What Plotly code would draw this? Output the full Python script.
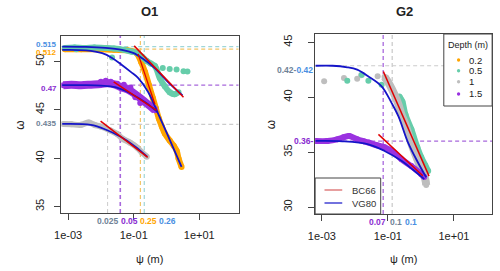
import numpy as np
import plotly.graph_objects as go

# ---------------- data (log10 psi, omega) ----------------
# O1 panel
o1_orange_lp = [-3.1, -2.6, -2.1, -1.6, -1.2, -0.925, -0.774, -0.654, -0.534, -0.414, -0.323, -0.233, -0.143, -0.05, 0.10, 0.22, 0.31, 0.37, 0.46]
o1_orange_w = [51.25, 51.25, 51.25, 51.2, 51.15, 50.89, 49.95, 48.91, 47.55, 46.2, 45.16, 44.11, 43.28, 42.55, 41.82, 41.3, 40.78, 39.95, 39.1]
o1_teal_lp = [-3.1, -2.8, -2.5, -2.2, -1.9, -1.6, -1.3, -1.05, -0.9, -0.75, -0.6, -0.48, -0.353, -0.203, -0.053, 0.098, 0.248, 0.368]
o1_teal_w = [51.4, 51.45, 51.4, 51.45, 51.4, 51.35, 51.2, 51.0, 50.9, 50.5, 50.05, 49.8, 49.53, 48.28, 47.45, 46.82, 46.61, 46.82]
o1_teal_extra_lp = [-1.66, -0.113, 0.098, 0.308, 0.519, 0.64, -2.75]
o1_teal_extra_w = [50.4, 49.32, 49.22, 49.17, 49.0, 48.96, 51.25]
o1_grey_lp = [-3.15, -2.9, -2.6, -2.37, -2.2, -2.01, -1.71, -1.5, -1.35, -1.11, -0.89, -0.75, -0.60]
o1_grey_w = [43.54, 43.5, 43.45, 43.7, 43.45, 43.28, 42.86, 42.5, 42.03, 41.61, 41.09, 40.6, 40.16]
o1_purple_lp = [-3.15, -2.9, -2.61, -2.3, -2.0, -1.8, -1.56, -1.4, -1.26, -1.1, -0.95, -0.8, -0.65, -0.5, -0.35]
o1_purple_w = [47.55, 47.6, 47.55, 47.6, 47.66, 47.75, 47.6, 47.35, 47.2, 46.95, 46.6, 46.2, 45.8, 45.4, 44.95]
o1_purple_extra_lp = [-2.0, -1.85, -1.7, -1.5, -1.3, -1.1, -0.95, -0.8]
o1_purple_extra_w = [47.9, 48.0, 47.9, 47.7, 47.6, 47.3, 46.3, 45.7]

# fitted curves O1 (VG80 = blue, BC66 = red)
o1_vg_teal_lp = [-3.18, -2.46, -1.86, -1.36, -1.02, -0.74, -0.35, 0.04, 0.49]
o1_vg_teal_w = [51.54, 51.51, 51.4, 51.2, 50.89, 50.33, 49.29, 47.9, 46.5]
o1_vg_orange_lp = [-3.18, -2.46, -1.96, -1.66, -1.36, -1.08, -0.86, -0.56, -0.30, -0.05, 0.19, 0.46]
o1_vg_orange_w = [51.2, 51.15, 50.85, 50.36, 49.64, 48.9, 48.28, 46.85, 44.95, 43.07, 41.2, 39.11]
o1_vg_purple_lp = [-3.18, -2.5, -2.0, -1.56, -1.11, -0.65, -0.26]
o1_vg_purple_w = [47.55, 47.55, 47.5, 47.34, 46.72, 45.78, 44.74]
o1_vg_grey_lp = [-3.18, -2.31, -1.86, -1.41, -0.95, -0.59]
o1_vg_grey_w = [43.54, 43.44, 42.97, 42.24, 41.2, 40.16]
o1_bc_teal_lp = [-0.985, 0.519]
o1_bc_teal_w = [51.61, 46.30]
o1_bc_orange_lp = [-0.865, -0.353]
o1_bc_orange_w = [50.78, 45.57]
o1_bc_purple_lp = [-1.61, -0.30]
o1_bc_purple_w = [47.9, 44.95]
o1_bc_grey_lp = [-2.01, -0.573]
o1_bc_grey_w = [43.83, 40.08]

# reference lines O1
o1_hlines = [51.53, 51.27, 47.55, 43.5]
o1_hline_labels = ["0.515", "0.512", "0.47", "0.435"]
o1_vlines = [0.016, 0.039, 0.16, 0.21]
o1_vline_labels = ["0.025", "0.05", "0.25", "0.26"]

# G2 panel
g2_grey_scatter_lp = [-2.93, -2.33, -1.93, -1.81, -1.31]
g2_grey_scatter_w = [41.45, 41.76, 41.69, 42.0, 41.92]
g2_grey_lp = [-1.10, -0.95, -0.80, -0.68, -0.59, -0.47, -0.35, -0.23, -0.11, 0.01, 0.13, 0.16]
g2_grey_w = [41.87, 41.15, 40.24, 39.34, 38.43, 37.53, 36.35, 35.27, 34.36, 33.46, 32.55, 32.0]
g2_teal_scatter_lp = [-2.23, -1.79, -1.59, -1.19]
g2_teal_scatter_w = [41.51, 42.05, 41.51, 41.15]
g2_teal_lp = [-0.65, -0.56, -0.47, -0.29, -0.11, 0.01, 0.13, 0.22]
g2_teal_w = [40.06, 39.6, 38.43, 37.08, 35.45, 34.54, 33.82, 33.28]
g2_purple_lp = [-3.19, -2.83, -2.53, -2.35, -2.17, -1.93, -1.73, -1.58, -1.34, -1.10, -0.83, -0.59, -0.29, 0.01, 0.10]
g2_purple_w = [36.02, 36.02, 36.17, 36.35, 36.47, 36.17, 35.99, 35.87, 35.63, 35.45, 35.0, 34.36, 33.73, 33.0, 32.73]
g2_vg_grey_lp = [-3.19, -2.68, -2.23, -1.93, -1.59, -1.19, -0.89, -0.68, -0.39, -0.09, 0.16]
g2_vg_grey_w = [42.87, 42.87, 42.73, 42.51, 41.9, 41.0, 39.49, 38.25, 35.87, 34.06, 32.71]
g2_vg_purple_lp = [-3.19, -2.38, -1.59, -1.10, -0.59, -0.23, 0.10]
g2_vg_purple_w = [36.02, 35.99, 35.72, 35.11, 34.21, 33.37, 32.55]
g2_bc_grey_lp = [-1.137, 0.245]
g2_bc_grey_w = [42.35, 32.82]
g2_bc_purple_lp = [-1.287, 0.057]
g2_bc_purple_w = [36.62, 32.85]
g2_hlines = [42.87, 36.0]
g2_vlines = [0.072, 0.135]

depth_labels = ["0.2", "0.5", "1", "1.5"]
model_labels = ["BC66", "VG80"]

# ---------------- styling ----------------
ORANGE = "#FFA500"
TEAL = "#66CDAA"
GREY = "#BEBEBE"
PURPLE = "#9A32E0"
BLUE = "#1414C8"
RED = "#E00000"
LBLUE = "#4A8FE2"
SLATE = "#6F8296"
LPURP = "#8A2BD0"
FONT = "Liberation Sans, Arial, sans-serif"
W, H = 500, 271


def PX(p):
    return p / W


def PY(p):
    return 1 - p / H


def P(lp):
    return 10 ** np.array(lp)


fig = go.Figure()

O1_XR = [-3.21, 2.203]
O1_YR = [34.34, 52.63]
G2_XR = [-3.203, 2.155]
G2_YR = [29.37, 45.76]


def dline(x, y, color, xa, ya, width=1.0):
    fig.add_trace(go.Scatter(x=x, y=y, mode="lines", xaxis=xa, yaxis=ya,
                             line=dict(color=color, width=width, dash="4px,3px"),
                             hoverinfo="skip", showlegend=False))


def band(lp, w, color, xa, ya, width=5, size=6):
    fig.add_trace(go.Scatter(x=P(lp), y=w, mode="lines+markers", xaxis=xa, yaxis=ya,
                             line=dict(color=color, width=width, shape="spline"),
                             marker=dict(color=color, size=size),
                             showlegend=False))


def dots(lp, w, color, xa, ya, size=6):
    fig.add_trace(go.Scatter(x=P(lp), y=w, mode="markers", xaxis=xa, yaxis=ya,
                             marker=dict(color=color, size=size), showlegend=False))


def fit(lp, w, color, xa, ya, width=1.8):
    fig.add_trace(go.Scatter(x=P(lp), y=w, mode="lines", xaxis=xa, yaxis=ya,
                             line=dict(color=color, width=width, shape="spline"),
                             showlegend=False))


# ---- O1 reference lines
o1_hcolors = ["#9ED6D8", "#F2C66A", "#A868DC", "#CCCCCC"]
o1_vcolors = ["#CCCCCC", "#A868DC", "#F2C66A", "#9ED6D8"]
o1_vwidths = [1.0, 1.6, 1.2, 1.2]
for v, c in zip(o1_hlines, o1_hcolors):
    dline(list(10 ** np.array(O1_XR)), [v, v], c, "x", "y", 1.2)
for v, c, wd in zip(o1_vlines, o1_vcolors, o1_vwidths):
    dline([v, v], O1_YR, c, "x", "y", wd)

# ---- O1 data
band(o1_orange_lp, o1_orange_w, ORANGE, "x", "y", width=6)
band(o1_teal_lp, o1_teal_w, TEAL, "x", "y", width=6)
dots(o1_teal_extra_lp, o1_teal_extra_w, TEAL, "x", "y")
band(o1_grey_lp, o1_grey_w, GREY, "x", "y", width=6)
band(o1_purple_lp, o1_purple_w, PURPLE, "x", "y", width=8)
dots(o1_purple_extra_lp, o1_purple_extra_w, PURPLE, "x", "y")

fit(o1_vg_teal_lp, o1_vg_teal_w, BLUE, "x", "y")
fit(o1_vg_orange_lp, o1_vg_orange_w, BLUE, "x", "y")
fit(o1_vg_purple_lp, o1_vg_purple_w, BLUE, "x", "y")
fit(o1_vg_grey_lp, o1_vg_grey_w, BLUE, "x", "y")
fit(o1_bc_teal_lp, o1_bc_teal_w, RED, "x", "y", 1.5)
fit(o1_bc_orange_lp, o1_bc_orange_w, RED, "x", "y", 1.3)
fit(o1_bc_purple_lp, o1_bc_purple_w, RED, "x", "y", 1.5)
fit(o1_bc_grey_lp, o1_bc_grey_w, RED, "x", "y", 1.5)

# ---- G2 reference lines
g2_hcolors = ["#CCCCCC", "#A868DC"]
g2_vcolors = ["#A868DC", "#CCCCCC"]
for v, c in zip(g2_hlines, g2_hcolors):
    dline(list(10 ** np.array(G2_XR)), [v, v], c, "x2", "y2", 1.2)
for v, c in zip(g2_vlines, g2_vcolors):
    dline([v, v], G2_YR, c, "x2", "y2", 1.3)

# ---- G2 data
dots(g2_grey_scatter_lp, g2_grey_scatter_w, GREY, "x2", "y2")
dots(g2_teal_scatter_lp, g2_teal_scatter_w, TEAL, "x2", "y2")
band(g2_teal_lp, g2_teal_w, TEAL, "x2", "y2", width=6)
band(g2_grey_lp, g2_grey_w, GREY, "x2", "y2", width=8)
band(g2_purple_lp, g2_purple_w, PURPLE, "x2", "y2", width=6)
fit(g2_vg_grey_lp, g2_vg_grey_w, BLUE, "x2", "y2")
fit(g2_vg_purple_lp, g2_vg_purple_w, BLUE, "x2", "y2")
fit(g2_bc_grey_lp, g2_bc_grey_w, RED, "x2", "y2", 1.5)
fit(g2_bc_purple_lp, g2_bc_purple_w, RED, "x2", "y2", 1.5)

axis_common = dict(showline=True, mirror=True, linecolor="#444", linewidth=1,
                   ticks="outside", ticklen=6, tickcolor="#444", showgrid=False,
                   zeroline=False, tickfont=dict(family=FONT, size=11, color="#222"))

xt = dict(type="log", tickvals=[1e-3, 1e-1, 1e1], ticktext=["1e-03", "1e-01", "1e+01"],
          ticklabelstandoff=6)

fig.update_layout(
    width=W, height=H, margin=dict(l=0, r=0, t=0, b=0),
    paper_bgcolor="white", plot_bgcolor="white",
    xaxis=dict(domain=[PX(55), PX(235)], range=O1_XR, anchor="y", **xt, **axis_common),
    yaxis=dict(domain=[PY(213), PY(36)], range=O1_YR, anchor="x", tickvals=[35, 40, 45, 50],
               tickangle=-90, ticklabelstandoff=6, **axis_common),
    xaxis2=dict(domain=[PX(312.5), PX(492)], range=G2_XR, anchor="y2", **xt, **axis_common),
    yaxis2=dict(domain=[PY(214), PY(34)], range=G2_YR, anchor="x2", tickvals=[30, 35, 40, 45],
                tickangle=-90, ticklabelstandoff=12, **axis_common),
    showlegend=False,
)

ann = []


def A(text, x, y, size=11, color="#222", bold=False, xanchor="center", yanchor="middle", angle=0):
    t = f"<b>{text}</b>" if bold else text
    ann.append(dict(text=t, x=PX(x), y=PY(y), xref="paper", yref="paper", showarrow=False,
                    xanchor=xanchor, yanchor=yanchor, textangle=angle,
                    font=dict(family=FONT, size=size, color=color)))


# titles and axis titles
A("O1", 145, 11, size=13, bold=True)
A("G2", 403, 11, size=13, bold=True)
A("ψ (m)", 145, 259, size=11)
A("ψ (m)", 402, 259, size=11)
A("ω", 13, 125, size=12, angle=-90)
A("ω", 268, 125, size=12, angle=-90)

# O1 left labels
o1_lab_colors = [LBLUE, ORANGE, LPURP, SLATE]
o1_lab_py = [44, 52.5, 88, 123]
for t, c, py in zip(o1_hline_labels, o1_lab_colors, o1_lab_py):
    A(t, 53, py, size=8, color=c, bold=True, xanchor="right")
# O1 bottom labels
o1_vlab_colors = [SLATE, LPURP, ORANGE, LBLUE]
o1_vlab_px = [102.7, 124, 144, 163]
for t, c, px in zip(o1_vline_labels, o1_vlab_colors, o1_vlab_px):
    A(t, px, 221, size=8.5, color=c, bold=True)

# G2 labels
ann.append(dict(text=f'<b><span style="color:{SLATE}">0.42-</span><span style="color:{LBLUE}">0.42</span></b>',
                x=PX(312), y=PY(70), xref="paper", yref="paper", showarrow=False,
                xanchor="right", yanchor="middle", font=dict(family=FONT, size=8.5)))
A("0.36-", 313, 141, size=8.5, color=LPURP, bold=True, xanchor="right")
A("0.07", 375.5, 222, size=8.5, color=LPURP, bold=True)
A("0.1", 394.5, 222, size=8.5, color=SLATE, bold=True)
A("0.1", 409.5, 222, size=8.5, color=LBLUE, bold=True)

# Depth legend
shapes = []
shapes.append(dict(type="rect", xref="paper", yref="paper", x0=PX(443), x1=PX(492), y0=PY(106), y1=PY(34),
                   line=dict(color="#444", width=1), fillcolor="white", layer="above"))
A("Depth (m)", 467.5, 45, size=9)
leg_cols = [ORANGE, TEAL, GREY, PURPLE]
leg_py = [60, 70.7, 81.7, 94]
for t, c, py in zip(depth_labels, leg_cols, leg_py):
    shapes.append(dict(type="circle", xref="paper", yref="paper", x0=PX(456.3), x1=PX(459.7),
                       y0=PY(py + 1.7), y1=PY(py - 1.7), line=dict(width=0), fillcolor=c, layer="above"))
    A(t, 467, py, size=9.5, xanchor="left")

# model legend
shapes.append(dict(type="rect", xref="paper", yref="paper", x0=PX(312.5), x1=PX(379), y0=PY(214), y1=PY(178),
                   line=dict(color="#444", width=1), fillcolor="white", layer="above"))
for t, c, py in zip(model_labels, ["#D86060", BLUE], [190, 203]):
    shapes.append(dict(type="line", xref="paper", yref="paper", x0=PX(322), x1=PX(340), y0=PY(py), y1=PY(py),
                       line=dict(color=c, width=1.2), layer="above"))
    A(t, 348, py, size=9.5, color="#333", xanchor="left")

fig.update_layout(annotations=ann, shapes=shapes, hovermode=False)
# remove the page's default body margin so the 500x271 figure fills the window exactly
fig.write_html("out.html", config={"displayModeBar": False, "staticPlot": True},
               post_script="document.body.style.margin='0px';document.body.style.overflow='hidden';")
